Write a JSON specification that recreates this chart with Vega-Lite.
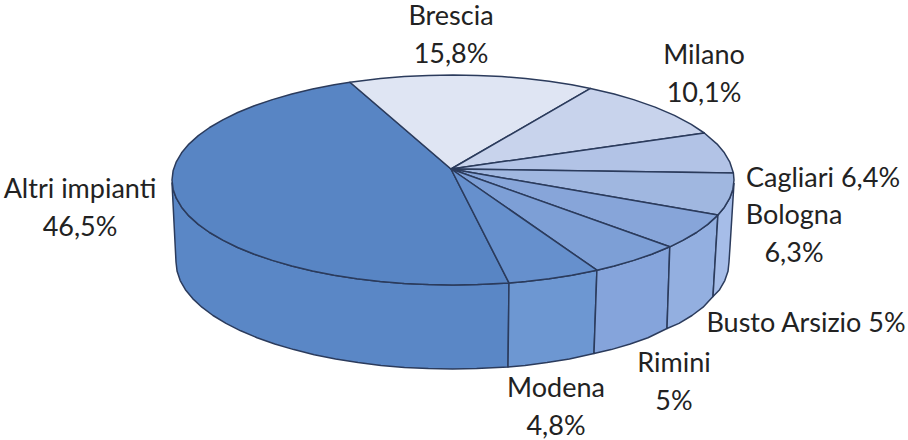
{"$schema":"https://vega.github.io/schema/vega-lite/v6.json","width":908,"height":440,"padding":0,"autosize":"none","background":"white","config":{"view":{"stroke":null}},
"layer":[
{"data":{"values":[
{"s":"wAltri","i":1,"x":56,"y":-102.9},{"s":"wAltri","i":1.5,"x":24.5,"y":-104.6},{"s":"wAltri","i":2,"x":0,"y":-105},{"s":"wAltri","i":2.5,"x":-24.5,"y":-104.6},{"s":"wAltri","i":3,"x":-48.8,"y":-103.4},{"s":"wAltri","i":3.5,"x":-72.7,"y":-101.4},{"s":"wAltri","i":4,"x":-96.1,"y":-98.7},{"s":"wAltri","i":4.5,"x":-118.8,"y":-95.2},{"s":"wAltri","i":5,"x":-140.5,"y":-90.9},{"s":"wAltri","i":5.5,"x":-161.2,"y":-86},{"s":"wAltri","i":6,"x":-180.6,"y":-80.4},{"s":"wAltri","i":6.5,"x":-198.7,"y":-74.2},{"s":"wAltri","i":7,"x":-215.3,"y":-67.5},{"s":"wAltri","i":7.5,"x":-230.2,"y":-60.2},{"s":"wAltri","i":8,"x":-243.4,"y":-52.5},{"s":"wAltri","i":8.5,"x":-254.7,"y":-44.4},{"s":"wAltri","i":9,"x":-264.1,"y":-35.9},{"s":"wAltri","i":9.5,"x":-271.4,"y":-27.2},{"s":"wAltri","i":10,"x":-276.7,"y":-18.2},{"s":"wAltri","i":10.5,"x":-279.9,"y":-9.2},{"s":"wAltri","i":11,"x":-281,"y":-3},{"s":"wAltri","i":12,"x":-277,"y":-82},{"s":"wAltri","i":12.5,"x":-275.9,"y":-91.3},{"s":"wAltri","i":13,"x":-272.8,"y":-100.6},{"s":"wAltri","i":13.5,"x":-267.6,"y":-109.7},{"s":"wAltri","i":14,"x":-260.3,"y":-118.6},{"s":"wAltri","i":14.5,"x":-251.1,"y":-127.2},{"s":"wAltri","i":15,"x":-240,"y":-135.5},{"s":"wAltri","i":15.5,"x":-227,"y":-143.4},{"s":"wAltri","i":16,"x":-212.3,"y":-150.8},{"s":"wAltri","i":16.5,"x":-196,"y":-157.7},{"s":"wAltri","i":17,"x":-178.2,"y":-164},{"s":"wAltri","i":17.5,"x":-159.1,"y":-169.6},{"s":"wAltri","i":18,"x":-138.8,"y":-174.7},{"s":"wAltri","i":18.5,"x":-117.4,"y":-179},{"s":"wAltri","i":19,"x":-95,"y":-182.5},{"s":"wAltri","i":19.5,"x":-72,"y":-185.4},{"s":"wAltri","i":20,"x":-48.5,"y":-187.4},{"s":"wAltri","i":20.5,"x":-24.6,"y":-188.6},{"s":"wAltri","i":21,"x":-0.5,"y":-189},{"s":"wAltri","i":21.5,"x":23.6,"y":-188.6},{"s":"wAltri","i":22,"x":55,"y":-187},{"s":"wAltri","i":23,"x":56,"y":-102.9},
{"s":"wModena","i":1,"x":143.9,"y":-90.2},{"s":"wModena","i":1.5,"x":118.8,"y":-95.2},{"s":"wModena","i":2,"x":96.1,"y":-98.7},{"s":"wModena","i":2.5,"x":72.7,"y":-101.4},{"s":"wModena","i":3,"x":56,"y":-102.9},{"s":"wModena","i":4,"x":55,"y":-187},{"s":"wModena","i":4.5,"x":72,"y":-185.4},{"s":"wModena","i":5,"x":94,"y":-182.5},{"s":"wModena","i":5.5,"x":116.4,"y":-179},{"s":"wModena","i":6,"x":141,"y":-173.5},{"s":"wModena","i":7,"x":143.9,"y":-90.2},
{"s":"wRimini","i":1,"x":216.8,"y":-66.8},{"s":"wRimini","i":1.5,"x":198.7,"y":-74.2},{"s":"wRimini","i":2,"x":180.6,"y":-80.4},{"s":"wRimini","i":2.5,"x":161.2,"y":-86},{"s":"wRimini","i":3,"x":143.9,"y":-90.2},{"s":"wRimini","i":4,"x":141,"y":-173.5},{"s":"wRimini","i":4.5,"x":158.1,"y":-169.6},{"s":"wRimini","i":5,"x":177.2,"y":-164},{"s":"wRimini","i":5.5,"x":195,"y":-157.7},{"s":"wRimini","i":6,"x":214,"y":-148.5},{"s":"wRimini","i":7,"x":216.8,"y":-66.8},
{"s":"wBusto","i":1,"x":264.9,"y":-35.1},{"s":"wBusto","i":1.5,"x":254.7,"y":-44.4},{"s":"wBusto","i":2,"x":243.4,"y":-52.5},{"s":"wBusto","i":2.5,"x":230.2,"y":-60.2},{"s":"wBusto","i":3,"x":216.8,"y":-66.8},{"s":"wBusto","i":4,"x":214,"y":-148.5},{"s":"wBusto","i":4.5,"x":226,"y":-143.4},{"s":"wBusto","i":5,"x":239,"y":-135.5},{"s":"wBusto","i":5.5,"x":250.1,"y":-127.2},{"s":"wBusto","i":6,"x":260,"y":-116.5},{"s":"wBusto","i":7,"x":264.9,"y":-35.1},
{"s":"wBologna","i":1,"x":281,"y":-3},{"s":"wBologna","i":1.5,"x":279.9,"y":-9.2},{"s":"wBologna","i":2,"x":276.7,"y":-18.2},{"s":"wBologna","i":2.5,"x":271.4,"y":-27.2},{"s":"wBologna","i":3,"x":264.9,"y":-35.1},{"s":"wBologna","i":4,"x":260,"y":-116.5},{"s":"wBologna","i":4.5,"x":266.6,"y":-109.7},{"s":"wBologna","i":5,"x":271.8,"y":-100.6},{"s":"wBologna","i":5.5,"x":275,"y":-91.3},{"s":"wBologna","i":6,"x":276,"y":-82},{"s":"wBologna","i":7,"x":277,"y":-67},{"s":"wBologna","i":8,"x":281,"y":-3},
{"s":"tAltri","i":1,"x":-2,"y":11},{"s":"tAltri","i":2,"x":-103,"y":97.7},{"s":"tAltri","i":2.5,"x":-118.8,"y":95.2},{"s":"tAltri","i":3,"x":-140.5,"y":90.9},{"s":"tAltri","i":3.5,"x":-161.2,"y":86},{"s":"tAltri","i":4,"x":-180.6,"y":80.4},{"s":"tAltri","i":4.5,"x":-198.7,"y":74.2},{"s":"tAltri","i":5,"x":-215.3,"y":67.5},{"s":"tAltri","i":5.5,"x":-230.2,"y":60.2},{"s":"tAltri","i":6,"x":-243.4,"y":52.5},{"s":"tAltri","i":6.5,"x":-254.7,"y":44.4},{"s":"tAltri","i":7,"x":-264.1,"y":35.9},{"s":"tAltri","i":7.5,"x":-271.4,"y":27.2},{"s":"tAltri","i":8,"x":-276.7,"y":18.2},{"s":"tAltri","i":8.5,"x":-279.9,"y":9.2},{"s":"tAltri","i":9,"x":-281,"y":0},{"s":"tAltri","i":9.5,"x":-279.9,"y":-9.2},{"s":"tAltri","i":10,"x":-276.7,"y":-18.2},{"s":"tAltri","i":10.5,"x":-271.4,"y":-27.2},{"s":"tAltri","i":11,"x":-264.1,"y":-35.9},{"s":"tAltri","i":11.5,"x":-254.7,"y":-44.4},{"s":"tAltri","i":12,"x":-243.4,"y":-52.5},{"s":"tAltri","i":12.5,"x":-230.2,"y":-60.2},{"s":"tAltri","i":13,"x":-215.3,"y":-67.5},{"s":"tAltri","i":13.5,"x":-198.7,"y":-74.2},{"s":"tAltri","i":14,"x":-180.6,"y":-80.4},{"s":"tAltri","i":14.5,"x":-161.2,"y":-86},{"s":"tAltri","i":15,"x":-140.5,"y":-90.9},{"s":"tAltri","i":15.5,"x":-118.8,"y":-95.2},{"s":"tAltri","i":16,"x":-96.1,"y":-98.7},{"s":"tAltri","i":16.5,"x":-72.7,"y":-101.4},{"s":"tAltri","i":17,"x":-48.8,"y":-103.4},{"s":"tAltri","i":17.5,"x":-24.5,"y":-104.6},{"s":"tAltri","i":18,"x":0,"y":-105},{"s":"tAltri","i":18.5,"x":24.5,"y":-104.6},{"s":"tAltri","i":19,"x":56,"y":-102.9},{"s":"tAltri","i":20,"x":-2,"y":11},
{"s":"tBrescia","i":1,"x":-2,"y":11},{"s":"tBrescia","i":2,"x":137.5,"y":91.6},{"s":"tBrescia","i":2.5,"x":118.8,"y":95.2},{"s":"tBrescia","i":3,"x":96.1,"y":98.7},{"s":"tBrescia","i":3.5,"x":72.7,"y":101.4},{"s":"tBrescia","i":4,"x":48.8,"y":103.4},{"s":"tBrescia","i":4.5,"x":24.5,"y":104.6},{"s":"tBrescia","i":5,"x":0,"y":105},{"s":"tBrescia","i":5.5,"x":-24.5,"y":104.6},{"s":"tBrescia","i":6,"x":-48.8,"y":103.4},{"s":"tBrescia","i":6.5,"x":-72.7,"y":101.4},{"s":"tBrescia","i":7,"x":-103,"y":97.7},{"s":"tBrescia","i":8,"x":-2,"y":11},
{"s":"tMilano","i":1,"x":-2,"y":11},{"s":"tMilano","i":2,"x":251.3,"y":47},{"s":"tMilano","i":3,"x":238.3,"y":55.6},{"s":"tMilano","i":4,"x":221.4,"y":64.6},{"s":"tMilano","i":5,"x":202.1,"y":72.9},{"s":"tMilano","i":6,"x":180.6,"y":80.4},{"s":"tMilano","i":7,"x":161.2,"y":86},{"s":"tMilano","i":8,"x":137.5,"y":91.6},{"s":"tMilano","i":9,"x":-2,"y":11},
{"s":"tCagliari","i":1,"x":-2,"y":11},{"s":"tCagliari","i":2,"x":280.4,"y":7},{"s":"tCagliari","i":3,"x":276.7,"y":18.2},{"s":"tCagliari","i":4,"x":271.4,"y":27.2},{"s":"tCagliari","i":5,"x":264.1,"y":35.9},{"s":"tCagliari","i":6,"x":251.3,"y":47},{"s":"tCagliari","i":7,"x":-2,"y":11},
{"s":"tBologna","i":1,"x":-2,"y":11},{"s":"tBologna","i":2,"x":264.9,"y":-35.1},{"s":"tBologna","i":2.5,"x":271.4,"y":-27.2},{"s":"tBologna","i":3,"x":276.7,"y":-18.2},{"s":"tBologna","i":3.5,"x":279.9,"y":-9.2},{"s":"tBologna","i":4,"x":281,"y":0},{"s":"tBologna","i":5,"x":280.4,"y":7},{"s":"tBologna","i":6,"x":-2,"y":11},
{"s":"tBusto","i":1,"x":-2,"y":11},{"s":"tBusto","i":2,"x":216.8,"y":-66.8},{"s":"tBusto","i":2.5,"x":230.2,"y":-60.2},{"s":"tBusto","i":3,"x":243.4,"y":-52.5},{"s":"tBusto","i":3.5,"x":254.7,"y":-44.4},{"s":"tBusto","i":4,"x":264.9,"y":-35.1},{"s":"tBusto","i":5,"x":-2,"y":11},
{"s":"tRimini","i":1,"x":-2,"y":11},{"s":"tRimini","i":2,"x":143.9,"y":-90.2},{"s":"tRimini","i":2.5,"x":161.2,"y":-86},{"s":"tRimini","i":3,"x":180.6,"y":-80.4},{"s":"tRimini","i":3.5,"x":198.7,"y":-74.2},{"s":"tRimini","i":4,"x":216.8,"y":-66.8},{"s":"tRimini","i":5,"x":-2,"y":11},
{"s":"tModena","i":1,"x":-2,"y":11},{"s":"tModena","i":2,"x":56,"y":-102.9},{"s":"tModena","i":2.5,"x":72.7,"y":-101.4},{"s":"tModena","i":3,"x":96.1,"y":-98.7},{"s":"tModena","i":3.5,"x":118.8,"y":-95.2},{"s":"tModena","i":4,"x":143.9,"y":-90.2},{"s":"tModena","i":5,"x":-2,"y":11}
]},
"mark":{"type":"line","strokeWidth":1.5,"strokeJoin":"round","clip":false},
"encoding":{
"x":{"field":"x","type":"quantitative","scale":{"domain":[-453,455]},"axis":null},
"y":{"field":"y","type":"quantitative","scale":{"domain":[-260,180]},"axis":null},
"order":{"field":"i"},
"detail":{"field":"s"},
"fill":{"field":"s","type":"nominal","legend":null,"sort":null,"scale":{"domain":["wAltri","wModena","wRimini","wBusto","wBologna","tAltri","tBrescia","tMilano","tCagliari","tBologna","tBusto","tRimini","tModena"],"range":["#5a87c6","#6d97d2","#85a4db","#93afe0","#a6bde8","#5885c4","#dfe5f3","#c8d3ec","#b2c3e6","#a0b7e0","#87a5d9","#7d9fd6","#6690cd"]}},
"stroke":{"value":"#2b3b5c"}}},
{"data":{"values":[
{"label":"Brescia\n15,8%","x":-2,"y":163},
{"label":"Milano\n10,1%","x":251,"y":124},
{"label":"Cagliari 6,4%","x":370,"y":1},
{"label":"Bologna\n6,3%","x":341,"y":-36},
{"label":"Busto Arsizio 5%","x":353,"y":-144},
{"label":"Rimini\n5%","x":221,"y":-184},
{"label":"Modena\n4,8%","x":103,"y":-209},
{"label":"Altri impianti\n46,5%","x":-373,"y":-10}
]},
"mark":{"type":"text","font":"Lato","fontSize":27,"lineBreak":"\n","lineHeight":38,"align":"center","baseline":"middle","color":"#222222"},
"encoding":{
"x":{"field":"x","type":"quantitative","scale":{"domain":[-453,455]},"axis":null},
"y":{"field":"y","type":"quantitative","scale":{"domain":[-260,180]},"axis":null},
"text":{"field":"label"}}}
]}
